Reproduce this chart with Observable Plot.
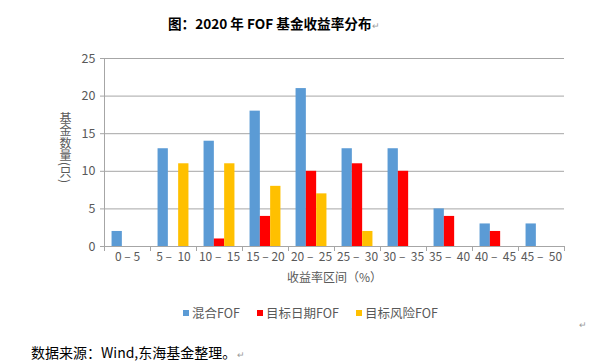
<!DOCTYPE html>
<html><head><meta charset="utf-8">
<script src="https://cdn.jsdelivr.net/npm/d3@7"></script>
<script src="https://cdn.jsdelivr.net/npm/@observablehq/plot@0.6"></script>
<style>
body{margin:0;background:#fff;}
#wrap{position:relative;width:608px;height:363px;overflow:hidden;background:#fff;font-family:"Noto Sans CJK SC","Noto Sans",sans-serif;}
#title{position:absolute;left:168px;top:13px;font-size:13.6px;font-weight:bold;color:#000;white-space:nowrap;line-height:20px;}
.ret{color:#9a9a9a;font-size:9px;font-weight:normal;margin-left:1px;}
#chart{position:absolute;left:0;top:40px;}
#ylabel{position:absolute;left:57px;top:112px;writing-mode:vertical-rl;text-orientation:mixed;font-size:12px;color:#595959;line-height:16px;letter-spacing:0.5px;}
#legend{position:absolute;left:183px;top:304px;display:flex;gap:0;font-size:12.5px;color:#595959;line-height:18px;}
#legend .item{display:flex;align-items:center;margin-right:17px;white-space:nowrap;}
#legend .sw{width:6px;height:6px;margin-right:3px;}
#ret2{position:absolute;left:578px;top:318px;}
#source{position:absolute;left:31px;top:342px;font-size:14px;color:#000;white-space:nowrap;line-height:20px;}
</style></head><body>
<div id="wrap">
 <div id="title">图：2020 年 FOF 基金收益率分布<span class="ret">↵</span></div>
 <div id="chart"></div>
 <div id="ylabel">基金数量(只)</div>
 <div id="legend"></div>
 <div id="ret2" class="ret">↵</div>
 <div id="source">数据来源：Wind,东海基金整理。<span class="ret">↵</span></div>
</div>
<script>
const categories = ["0 – 5","5 –  10","10 –  15","15 – 20","20 –  25","25 –  30","30 –  35","35 –  40","40 –  45","45 –  50"];
const seriesNames = ["混合FOF","目标日期FOF","目标风险FOF"];
const hybrid = [2,13,14,18,21,13,13,5,3,3];
const targetDate = [0,0,1,4,10,11,10,4,2,0];
const targetRisk = [0,11,11,8,7,2,0,0,0,0];
const yTicks = [0,5,10,15,20,25];
const colors = ["#5B9BD5","#FF0000","#FFC000"];

const seriesValues = [hybrid, targetDate, targetRisk];
const grid = "#A6A6A6";
const step = 46, barW = 10.3;
const inset = (step - barW) / 2;

const barMarks = seriesValues.map((vals, s) =>
  Plot.barY(categories.map((c, i) => ({cat: c, value: vals[i], series: seriesNames[s]})), {
    x: "cat", y: "value", fill: colors[s], dx: (s - 1) * barW,
    insetLeft: inset, insetRight: inset
  })
);

const chart = Plot.plot({
  width: 608, height: 250,
  marginLeft: 104, marginRight: 44, marginTop: 18, marginBottom: 44,
  style: {fontFamily: '"Noto Sans CJK SC","Noto Sans",sans-serif', fontSize: "12px", color: "#595959", background: "transparent"},
  x: {domain: categories, padding: 0},
  y: {domain: [0, 25]},
  marks: [
    Plot.ruleY(yTicks.filter(d => d > 0), {stroke: grid, strokeWidth: 1}),
    Plot.ruleY([0], {stroke: grid, strokeWidth: 1}),
    Plot.ruleX([categories[0]], {dx: -step / 2, y1: 0, y2: 25, stroke: grid}),
    Plot.ruleX(categories, {x: d => d, dx: -step / 2, y1: 0, y2: 0, insetBottom: -5, stroke: grid}),
    Plot.ruleX([categories[categories.length - 1]], {dx: step / 2, y1: 0, y2: 0, insetBottom: -5, stroke: grid}),
    ...barMarks,
    Plot.axisY({ticks: yTicks, tickSize: 4, tickPadding: 5, stroke: grid, fill: "#595959", fontSize: 12.5, label: null}),
    Plot.axisX({tickSize: 0, tickPadding: 6, fill: "#595959", fontSize: 12, label: "收益率区间（%）", labelAnchor: "center", labelArrow: "none", labelOffset: 35})
  ]
});
document.getElementById("chart").appendChild(chart);

const legend = document.getElementById("legend");
seriesNames.forEach((n, i) => {
  const it = document.createElement("div");
  it.className = "item";
  const sw = document.createElement("span");
  sw.className = "sw";
  sw.style.background = colors[i];
  it.appendChild(sw);
  it.appendChild(document.createTextNode(n));
  legend.appendChild(it);
});
</script>
</body></html>
